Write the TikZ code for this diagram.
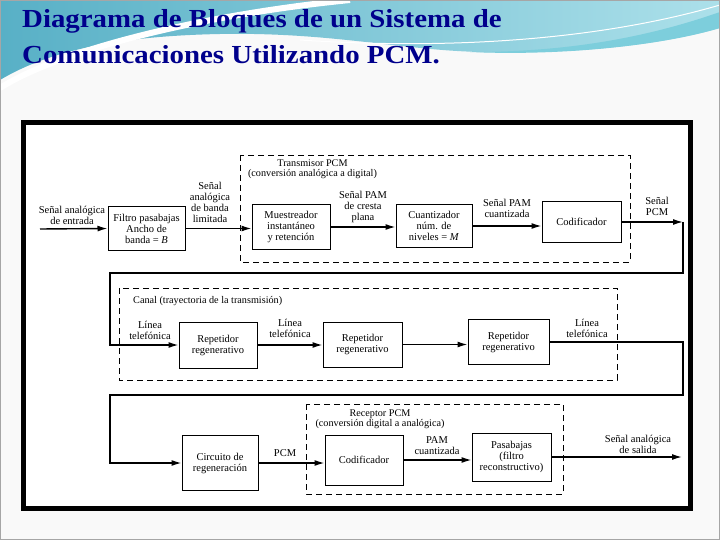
\documentclass[tikz,border=0pt]{standalone}
\usepackage{fontspec}
\setmainfont{Liberation Serif}
\usetikzlibrary{arrows.meta}
\usetikzlibrary{positioning}
\usepackage{xcolor}

\definecolor{titleblue}{RGB}{0,0,140}
\definecolor{bandteal}{RGB}{88,176,198}
\definecolor{bandlight}{RGB}{172,224,234}
\definecolor{banddeep}{RGB}{70,185,205}
\definecolor{slidebg}{RGB}{249,249,249}

\begin{document}
\begin{tikzpicture}[x=1pt, y=-1pt,
    blk/.style={draw, line width=1pt, align=center, inner sep=1pt, font=\fontsize{10.5}{11}\selectfont},
    lbl/.style={align=center, inner sep=0pt, font=\fontsize{10.5}{11}\selectfont},
    ttl/.style={align=center, inner sep=0pt, font=\fontsize{10.2}{9.5}\selectfont},
    dbox/.style={draw, dash pattern=on 6pt off 4pt, line width=0.9pt},
    wire/.style={line width=1.4pt},
    arr/.style={wire, -{Latex[length=10pt,width=6pt]}},
    slidetitle/.style={text=titleblue, inner sep=0pt, font=\fontsize{26}{30}\selectfont\bfseries}]
    \useasboundingbox (0,0) rectangle (720,540);

    % Slide background
    \fill[slidebg] (0,0) rectangle (720,540);
    \shade[left color=bandteal, right color=bandlight] (0,0) -- (720,0) -- (720,28)
        .. controls (660,45) and (580,54) .. (480,52)
        .. controls (400,50) and (330,32) .. (220,34)
        .. controls (120,36) and (50,50) .. (0,80) -- cycle;
    \fill[banddeep!70] (720,12) .. controls (640,40) and (560,52) .. (470,52)
        .. controls (560,56) and (660,46) .. (720,28) -- cycle;
    \draw[white, line width=6pt] (0,88) .. controls (60,50) and (200,15) .. (350,0);
    \draw[white, line width=1pt] (300,40) .. controls (450,50) and (600,40) .. (720,5);
    \draw[gray!70] (0.5,0.5) rectangle (719.5,539.5);

    % Title
    \node[slidetitle, anchor=base west] (t1) at (22,28) {\scalebox{1.11}[1]{Diagrama de Bloques de un Sistema de}};
    \node[slidetitle, anchor=base west] (t2) at (22,64) {\scalebox{1.11}[1]{Comunicaciones Utilizando PCM.}};

    % Frame
    \fill[white] (23.5,123) rectangle (690.5,508);
    \draw[line width=5pt] (23.5,123) rectangle (690.5,508);

    % Transmisor PCM
    \draw[dbox] (240,155) rectangle (630,262);
    \node[ttl] (ttx) at (312.5,169) {Transmisor PCM\\(conversión analógica a digital)};
    \coordinate (in) at (40,229);
    \node[lbl] (lin) at (72,215) {Señal analógica\\de entrada};
    \node[blk, minimum width=77, minimum height=43] (filtro) at (146.5,228.5) {Filtro pasabajas\\Ancho de\\banda = \textit{B}};
    \node[blk, minimum width=78, minimum height=44] (muestreo) at (291,227) {Muestreador\\instantáneo\\y retención};
    \node[blk, minimum width=76, minimum height=42] (cuant) at (434,226) {Cuantizador\\núm. de\\niveles = \textit{M}};
    \node[blk, minimum width=79, minimum height=40] (codif) at (581.5,222) {Codificador};
    \coordinate (pcmout) at (683,222);

    \node[lbl] (lband) at (210,202.5) {Señal\\analógica\\de banda\\limitada};
    \node[lbl] (lpam) at (363,207) {Señal PAM\\de cresta\\plana};
    \node[lbl] (lpamq) at (507,208) {Señal PAM\\cuantizada};
    \node[lbl] (lpcm) at (657,206) {Señal\\PCM};

    \draw[arr] (in) -- (filtro.west);
    \draw[arr] (filtro.east) -- (filtro.east -| muestreo.west);
    \draw[arr] (muestreo.east) -- (muestreo.east -| cuant.west);
    \draw[arr] (cuant.east) -- (cuant.east -| codif.west);
    \draw[arr] (codif.east) -- (pcmout);

    % Canal
    \coordinate (turn1) at (683,273);
    \coordinate (turn2) at (110,273);
    \draw[dbox] (119,288) rectangle (617,380);
    \node[ttl, anchor=west] (tcanal) at (133,301) {Canal (trayectoria de la transmisión)};
    \node[blk, minimum width=78, minimum height=46] (rep1) at (218,345) {Repetidor\\regenerativo};
    \node[blk, minimum width=79, minimum height=45] (rep2) at (362.5,344.5) {Repetidor\\regenerativo};
    \node[blk, minimum width=81, minimum height=45] (rep3) at (508.5,342) {Repetidor\\regenerativo};
    \node[lbl] (ltel1) at (150,330) {Línea\\telefónica};
    \node[lbl] (ltel2) at (290,328) {Línea\\telefónica};
    \node[lbl] (ltel3) at (587,328) {Línea\\telefónica};

    \draw[arr] (pcmout) -- (turn1) -- (turn2) |- (rep1.west);
    \draw[arr] (rep1.east) -- (rep1.east -| rep2.west);
    \draw[arr] (rep2.east) -- (rep2.east -| rep3.west);

    % Receptor PCM
    \coordinate (turn3) at (683,395);
    \coordinate (turn4) at (110,395);
    \draw[dbox] (306,404) rectangle (563,494);
    \node[ttl] (trx) at (380,419) {Receptor PCM\\(conversión digital a analógica)};
    \node[blk, minimum width=76, minimum height=55] (circ) at (220,463) {Circuito de\\regeneración};
    \node[blk, minimum width=78, minimum height=50] (decod) at (364,460) {Codificador};
    \node[blk, minimum width=79, minimum height=48] (pasab) at (511.5,457) {Pasabajas\\(filtro\\reconstructivo)};
    \coordinate (out) at (682,457);
    \node[lbl] (lpcm2) at (285,453) {PCM};
    \node[lbl] (lpamq2) at (437,446) {PAM\\cuantizada};
    \node[lbl] (lout) at (638,444) {Señal analógica\\de salida};

    \draw[arr] (rep3.east) -| (turn3) -- (turn4) |- (circ.west);
    \draw[arr] (circ.east) -- (circ.east -| decod.west);
    \draw[arr] (decod.east) -- (decod.east -| pasab.west);
    \draw[arr] (pasab.east) -- (out);
\end{tikzpicture}
\end{document}
